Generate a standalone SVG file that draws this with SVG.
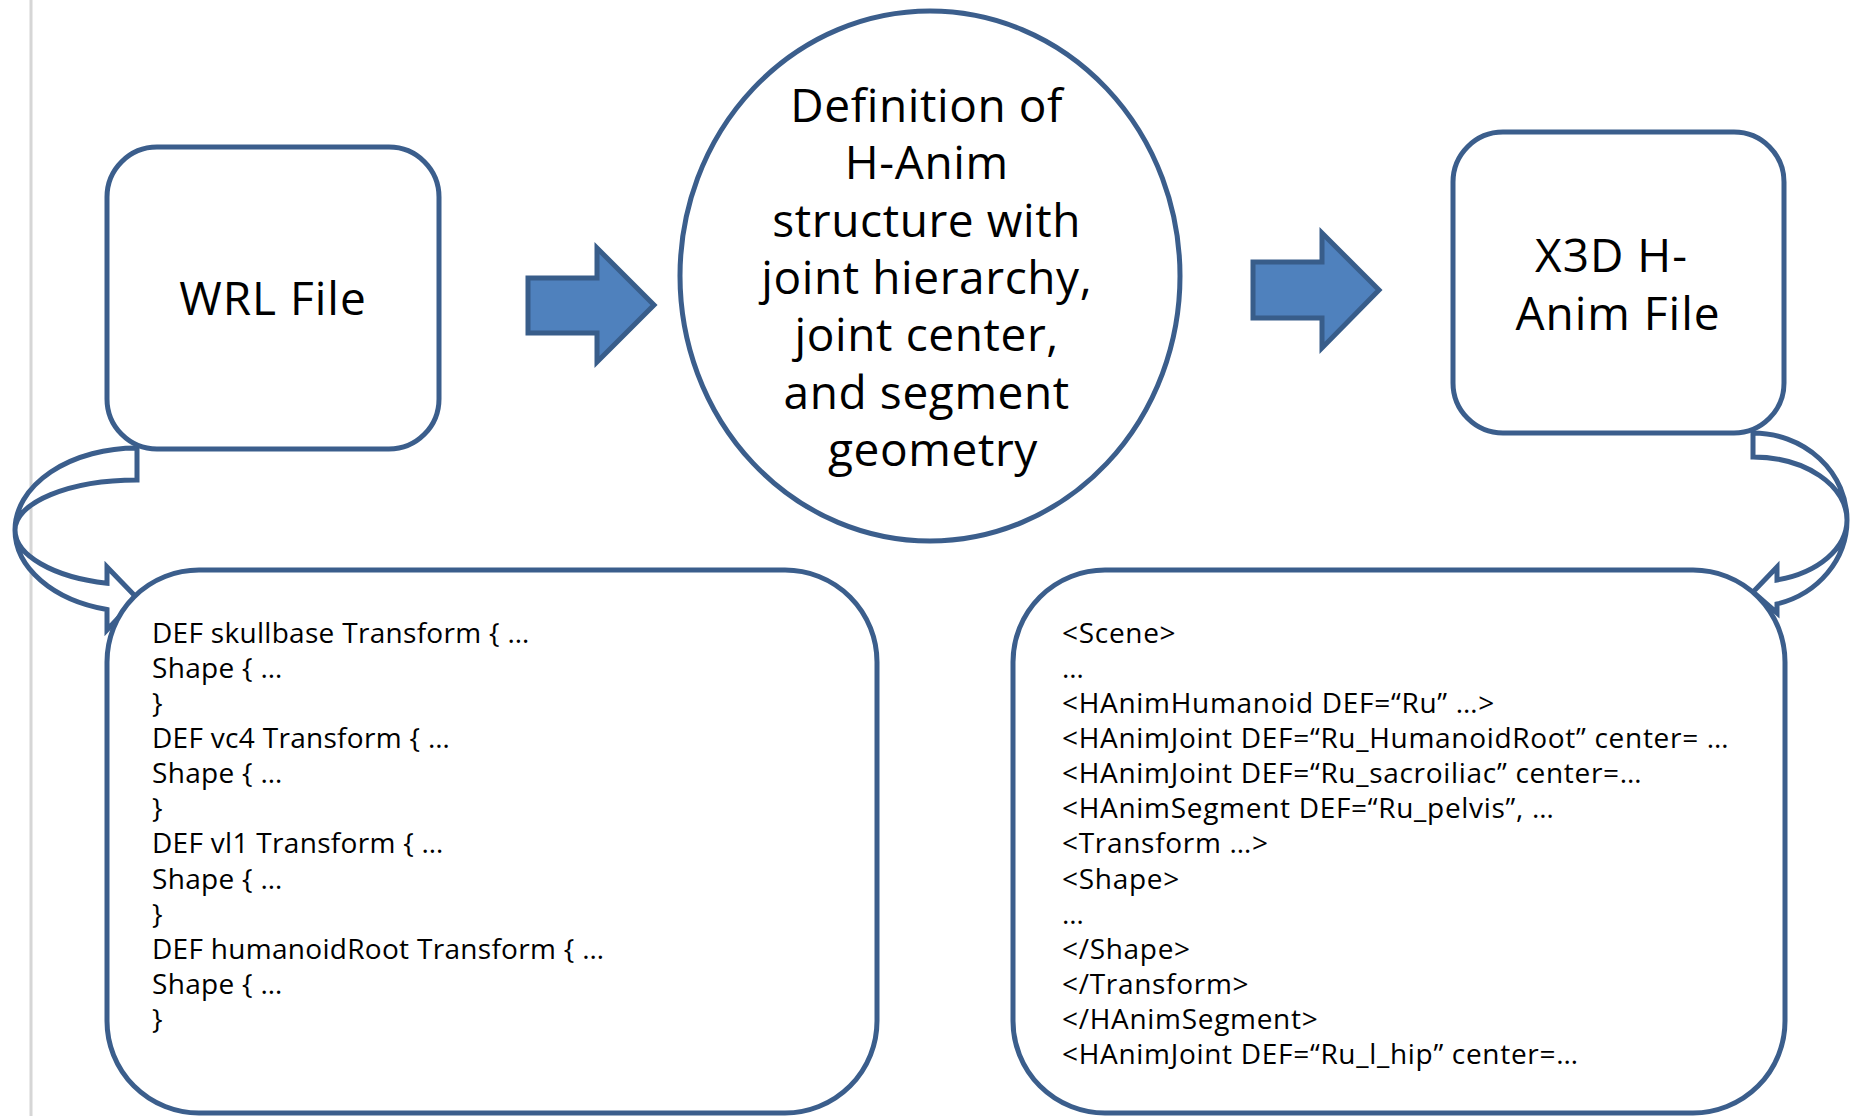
<svg xmlns="http://www.w3.org/2000/svg" width="1854" height="1116" viewBox="0 0 1854 1116">
  <style>
    .box { fill: #ffffff; stroke: #3b5e8c; stroke-width: 5; }
    .block { fill: #4f81bd; stroke: #385d8a; stroke-width: 5; stroke-linejoin: miter; }
    .curved { fill: #ffffff; stroke: #3b5e8c; stroke-width: 5; stroke-linejoin: miter; }
    .big { font-family: "Open Sans", "Noto Sans", "Noto Sans CJK KR", sans-serif; font-size: 46px; fill: #000000; text-anchor: middle; }
    .label { letter-spacing: 1px; }
    .def { letter-spacing: 0.6px; }
    .code { font-family: "Open Sans", "Noto Sans", "Noto Sans CJK KR", sans-serif; font-size: 28px; fill: #000000; }
    .vrml { letter-spacing: 0.3px; }
    .x3d { letter-spacing: 0.7px; }
  </style>

  <rect width="1854" height="1116" fill="#ffffff"/>
  <!-- page margin rule -->
  <line x1="31" y1="0" x2="31" y2="1116" stroke="#d6d6d6" stroke-width="3"/>

  <g id="connectors">
    <!-- WRL File -> definition -->
    <polygon class="block" points="528,278 597,278 597,248 654,305 597,362 597,333 528,333"/>
    <!-- definition -> X3D H-Anim File -->
    <polygon class="block" points="1253,262 1322,262 1322,233 1379,290 1322,348 1322,318 1253,318"/>
    <!-- WRL File -> WRL listing (curved right arrow) -->
    <path class="curved" d="M137,448 A122,82 0 0 0 15,530 A122,82 0 0 0 107,609.5 L107,630 L137,598 L107,567 L107,583.3 A122,55 0 0 1 15,530 A122,50 0 0 1 137,480 Z"/>
    <!-- X3D H-Anim File -> X3D listing (curved left arrow) -->
    <path class="curved" d="M1753,433 A94,87 0 0 1 1847,520 A94,87 0 0 1 1777,604 L1777,613 L1753,592 L1777,567 L1777,580 A94,62 0 0 0 1847,520 A94,63 0 0 0 1753,457 Z"/>
  </g>

  <g id="wrl-file">
    <rect class="box" x="107" y="147" width="332" height="302" rx="50" ry="50"/>
    <text class="big label" x="273" y="315">WRL File</text>
  </g>

  <g id="hanim-definition">
    <ellipse class="box" cx="930" cy="276" rx="250" ry="265" stroke-width="4.5"/>
    <text class="big def">
      <tspan x="933" y="122">Definition of</tspan>
      <tspan x="933" y="179">H-Anim</tspan>
      <tspan x="933" y="237">structure with</tspan>
      <tspan x="933" y="294">joint hierarchy,</tspan>
      <tspan x="933" y="351">joint center,</tspan>
      <tspan x="933" y="409">and segment</tspan>
      <tspan x="933" y="466">geometry</tspan>
    </text>
  </g>

  <g id="x3d-file">
    <rect class="box" x="1453" y="132" width="331" height="301" rx="50" ry="50"/>
    <text class="big label">
      <tspan x="1618" y="272">X3D H-</tspan>
      <tspan x="1618" y="330">Anim File</tspan>
    </text>
  </g>

  <g id="wrl-listing">
    <rect class="box" x="107" y="570" width="770" height="543" rx="92" ry="92" stroke-width="5.5"/>
    <text class="code vrml">
      <tspan x="152" y="643">DEF skullbase Transform { …</tspan>
      <tspan x="152" y="678">Shape { …</tspan>
      <tspan x="152" y="713">}</tspan>
      <tspan x="152" y="748">DEF vc4 Transform { …</tspan>
      <tspan x="152" y="783">Shape { …</tspan>
      <tspan x="152" y="818">}</tspan>
      <tspan x="152" y="853">DEF vl1 Transform { …</tspan>
      <tspan x="152" y="889">Shape { …</tspan>
      <tspan x="152" y="924">}</tspan>
      <tspan x="152" y="959">DEF humanoidRoot Transform { …</tspan>
      <tspan x="152" y="994">Shape { …</tspan>
      <tspan x="152" y="1029">}</tspan>
    </text>
  </g>

  <g id="x3d-listing">
    <rect class="box" x="1013" y="570" width="772" height="543" rx="92" ry="92" stroke-width="5.5"/>
    <text class="code x3d">
      <tspan x="1062" y="643">&lt;Scene&gt;</tspan>
      <tspan x="1062" y="678">…</tspan>
      <tspan x="1062" y="713">&lt;HAnimHumanoid DEF=“Ru” …&gt;</tspan>
      <tspan x="1062" y="748">&lt;HAnimJoint DEF=“Ru_HumanoidRoot” center= …</tspan>
      <tspan x="1062" y="783">&lt;HAnimJoint DEF=“Ru_sacroiliac” center=…</tspan>
      <tspan x="1062" y="818">&lt;HAnimSegment DEF=“Ru_pelvis”, …</tspan>
      <tspan x="1062" y="853">&lt;Transform …&gt;</tspan>
      <tspan x="1062" y="889">&lt;Shape&gt;</tspan>
      <tspan x="1062" y="924">…</tspan>
      <tspan x="1062" y="959">&lt;/Shape&gt;</tspan>
      <tspan x="1062" y="994">&lt;/Transform&gt;</tspan>
      <tspan x="1062" y="1029">&lt;/HAnimSegment&gt;</tspan>
      <tspan x="1062" y="1064">&lt;HAnimJoint DEF=“Ru_l_hip” center=…</tspan>
    </text>
  </g>
</svg>
